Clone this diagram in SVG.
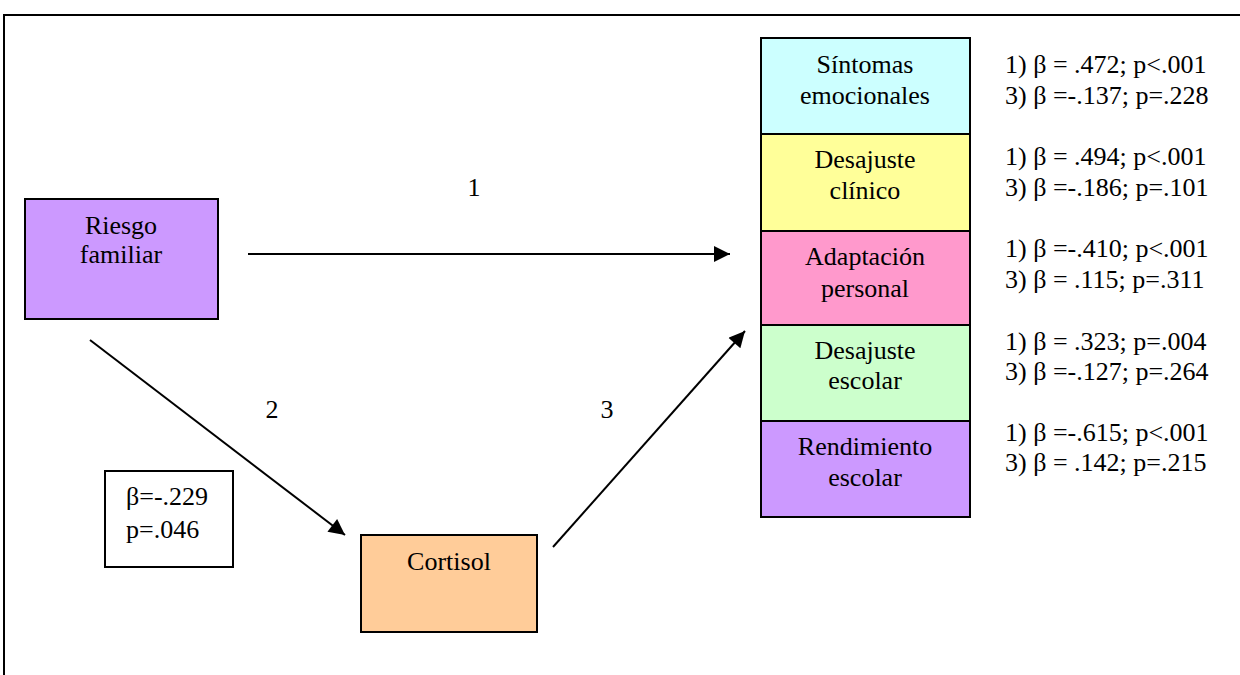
<svg xmlns="http://www.w3.org/2000/svg" width="1240" height="675" viewBox="0 0 1240 675" font-family="'Liberation Serif', Tinos, 'Times New Roman', 'DejaVu Serif', serif">
<style>
text{font-family:'Liberation Serif',Tinos,'Times New Roman','DejaVu Serif',serif;font-size:26px;fill:#000}
.c{text-anchor:middle}
.box{stroke:#000;stroke-width:2}
.ln{stroke:#000;stroke-width:2;fill:none}
</style>
<defs>
<marker id="ah" viewBox="0 0 10 10" refX="10" refY="5" markerWidth="9" markerHeight="8" markerUnits="strokeWidth" orient="auto">
<path d="M0,0 L10,5 L0,10 Z" fill="#000"/>
</marker>
</defs>
<rect width="1240" height="675" fill="#fff"/>
<path d="M4,675 L4,15 L1242,15" class="ln" stroke-width="2.5"/>
<g id="riesgo">
<rect x="25" y="199" width="193" height="120" fill="#CC99FF" class="box"/>
<text x="121" y="234" class="c">Riesgo</text>
<text x="121" y="263" class="c">familiar</text>
</g>
<g id="beta-box">
<rect x="105" y="471" width="128" height="96" fill="#fff" class="box"/>
<text x="126" y="505">β=-.229</text>
<text x="126" y="538">p=.046</text>
</g>
<g id="cortisol">
<rect x="361" y="535" width="176" height="97" fill="#FFCC99" class="box"/>
<text x="449" y="570" class="c">Cortisol</text>
</g>
<g id="sintomas">
<rect x="761" y="38" width="209" height="96" fill="#CCFFFF" class="box"/>
<text x="865" y="73" class="c">Síntomas</text>
<text x="865" y="104" class="c">emocionales</text>
</g>
<g id="desajuste-clinico">
<rect x="761" y="134" width="209" height="97" fill="#FFFF99" class="box"/>
<text x="865" y="168" class="c">Desajuste</text>
<text x="865" y="199" class="c">clínico</text>
</g>
<g id="adaptacion">
<rect x="761" y="231" width="209" height="94" fill="#FF99CC" class="box"/>
<text x="865" y="265" class="c">Adaptación</text>
<text x="865" y="297" class="c">personal</text>
</g>
<g id="desajuste-escolar">
<rect x="761" y="325" width="209" height="96" fill="#CCFFCC" class="box"/>
<text x="865" y="359" class="c">Desajuste</text>
<text x="865" y="389" class="c">escolar</text>
</g>
<g id="rendimiento">
<rect x="761" y="421" width="209" height="96" fill="#CC99FF" class="box"/>
<text x="865" y="455" class="c">Rendimiento</text>
<text x="865" y="486" class="c">escolar</text>
</g>
<g id="coefficients">
<text x="1005" y="73">1) β = .472; p&lt;.001</text>
<text x="1005" y="104">3) β =-.137; p=.228</text>
<text x="1005" y="165">1) β = .494; p&lt;.001</text>
<text x="1005" y="196">3) β =-.186; p=.101</text>
<text x="1005" y="257">1) β =-.410; p&lt;.001</text>
<text x="1005" y="288">3) β = .115; p=.311</text>
<text x="1005" y="350">1) β = .323; p=.004</text>
<text x="1005" y="380">3) β =-.127; p=.264</text>
<text x="1005" y="441">1) β =-.615; p&lt;.001</text>
<text x="1005" y="471">3) β = .142; p=.215</text>
</g>
<g id="connectors">
<line x1="248" y1="254" x2="730" y2="254" class="ln" marker-end="url(#ah)"/>
<line x1="90" y1="340" x2="345" y2="535" class="ln" marker-end="url(#ah)"/>
<line x1="553" y1="547" x2="745" y2="331" class="ln" marker-end="url(#ah)"/>
<text x="474" y="196" class="c">1</text>
<text x="272" y="418" class="c">2</text>
<text x="607" y="418" class="c">3</text>
</g>
</svg>
